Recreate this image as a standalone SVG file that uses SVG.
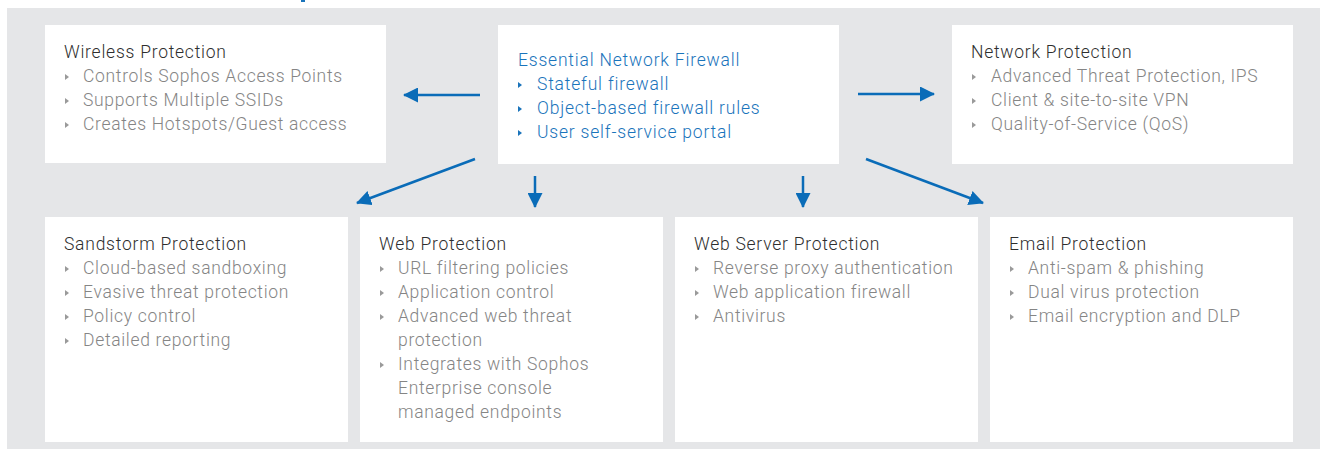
<svg xmlns="http://www.w3.org/2000/svg" width="1320" height="449" viewBox="0 0 1320 449">
<style>
.box{fill:#ffffff}
.t{font-family:Roboto,"Liberation Sans",sans-serif;font-size:17.5px;font-weight:300;letter-spacing:0.75px;fill:#2e2e2e}
.b{font-family:Roboto,"Liberation Sans",sans-serif;font-size:17.5px;font-weight:300;letter-spacing:0.68px;fill:#858585}
.bt{fill:#9a9a9a}
.bl{fill:#1a74bb}
.tb{font-family:Roboto,"Liberation Sans",sans-serif;font-size:17.5px;font-weight:300;letter-spacing:0.8px;fill:#1a74bb}
.c{stroke:#0a6cb8;stroke-width:2.5;fill:none}
</style>
<defs>
<marker id="ah" viewBox="0 0 15 15" refX="14" refY="7.5" markerWidth="15" markerHeight="15" markerUnits="userSpaceOnUse" orient="auto">
<path d="M0,0 L15,7.5 L0,15 z" fill="#0a6cb8"/>
</marker>
<path id="tri" d="M0,-3 L4,0 L0,3 z"/>
</defs>
<rect x="0" y="0" width="1320" height="449" fill="#ffffff"/>
<rect x="301" y="0" width="4" height="2" fill="#1a74bb"/>
<rect x="7" y="8" width="1313" height="441" fill="#e5e6e8"/>

<g id="wireless">
<rect class="box" x="45" y="25" width="341" height="138"/>
<text class="t" x="64" y="58">Wireless Protection</text>
<use href="#tri" class="bt" x="65" y="77"/><text class="b" x="83" y="82">Controls Sophos Access Points</text>
<use href="#tri" class="bt" x="65" y="101"/><text class="b" x="83" y="106">Supports Multiple SSIDs</text>
<use href="#tri" class="bt" x="65" y="125"/><text class="b" x="83" y="130">Creates Hotspots/Guest access</text>
</g>

<g id="firewall">
<rect class="box" x="498" y="25" width="341" height="139"/>
<text class="tb" x="518" y="66">Essential Network Firewall</text>
<use href="#tri" class="bl" x="518" y="85"/><text class="tb" x="537" y="90">Stateful firewall</text>
<use href="#tri" class="bl" x="518" y="109"/><text class="tb" x="537" y="114">Object-based firewall rules</text>
<use href="#tri" class="bl" x="518" y="133"/><text class="tb" x="537" y="138">User self-service portal</text>
</g>

<g id="network">
<rect class="box" x="952" y="25" width="341" height="139"/>
<text class="t" x="971" y="58">Network Protection</text>
<use href="#tri" class="bt" x="972" y="77"/><text class="b" x="991" y="82">Advanced Threat Protection, IPS</text>
<use href="#tri" class="bt" x="972" y="101"/><text class="b" x="991" y="106">Client &amp; site-to-site VPN</text>
<use href="#tri" class="bt" x="972" y="125"/><text class="b" x="991" y="130">Quality-of-Service (QoS)</text>
</g>

<g id="sandstorm">
<rect class="box" x="45" y="217" width="303" height="225"/>
<text class="t" x="64" y="250">Sandstorm Protection</text>
<use href="#tri" class="bt" x="65" y="269"/><text class="b" x="83" y="274">Cloud-based sandboxing</text>
<use href="#tri" class="bt" x="65" y="293"/><text class="b" x="83" y="298">Evasive threat protection</text>
<use href="#tri" class="bt" x="65" y="317"/><text class="b" x="83" y="322">Policy control</text>
<use href="#tri" class="bt" x="65" y="341"/><text class="b" x="83" y="346">Detailed reporting</text>
</g>

<g id="web">
<rect class="box" x="360" y="217" width="303" height="225"/>
<text class="t" x="379" y="250">Web Protection</text>
<use href="#tri" class="bt" x="380" y="269"/><text class="b" x="398" y="274">URL filtering policies</text>
<use href="#tri" class="bt" x="380" y="293"/><text class="b" x="398" y="298">Application control</text>
<use href="#tri" class="bt" x="380" y="317"/><text class="b" x="398" y="322">Advanced web threat</text>
<text class="b" x="398" y="346">protection</text>
<use href="#tri" class="bt" x="380" y="365"/><text class="b" x="398" y="370">Integrates with Sophos</text>
<text class="b" x="398" y="394">Enterprise console</text>
<text class="b" x="398" y="418">managed endpoints</text>
</g>

<g id="webserver">
<rect class="box" x="675" y="217" width="303" height="225"/>
<text class="t" x="694" y="250">Web Server Protection</text>
<use href="#tri" class="bt" x="695" y="269"/><text class="b" x="713" y="274">Reverse proxy authentication</text>
<use href="#tri" class="bt" x="695" y="293"/><text class="b" x="713" y="298">Web application firewall</text>
<use href="#tri" class="bt" x="695" y="317"/><text class="b" x="713" y="322">Antivirus</text>
</g>

<g id="email">
<rect class="box" x="990" y="217" width="303" height="225"/>
<text class="t" x="1009" y="250">Email Protection</text>
<use href="#tri" class="bt" x="1010" y="269"/><text class="b" x="1028" y="274">Anti-spam &amp; phishing</text>
<use href="#tri" class="bt" x="1010" y="293"/><text class="b" x="1028" y="298">Dual virus protection</text>
<use href="#tri" class="bt" x="1010" y="317"/><text class="b" x="1028" y="322">Email encryption and DLP</text>
</g>

<g id="connectors">
<line class="c" x1="480" y1="95" x2="404" y2="95" marker-end="url(#ah)"/>
<line class="c" x1="858" y1="94" x2="934" y2="94" marker-end="url(#ah)"/>
<line class="c" x1="475" y1="159" x2="357" y2="203" marker-end="url(#ah)"/>
<line class="c" x1="535" y1="176" x2="535" y2="207" marker-end="url(#ah)"/>
<line class="c" x1="803" y1="176" x2="803" y2="207" marker-end="url(#ah)"/>
<line class="c" x1="866" y1="159" x2="983" y2="203" marker-end="url(#ah)"/>
</g>
</svg>
